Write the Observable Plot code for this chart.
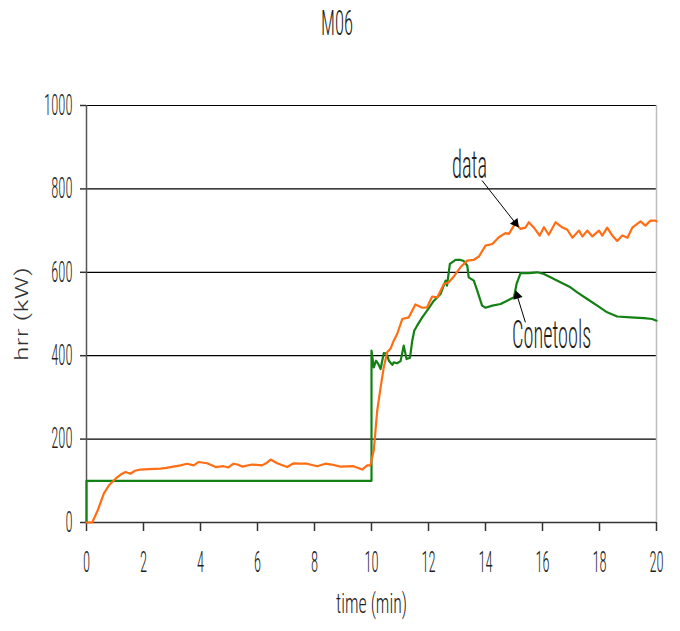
<!DOCTYPE html>
<html>
<head>
<meta charset="utf-8">
<script src="https://cdn.jsdelivr.net/npm/d3@7"></script>
<script src="https://cdn.jsdelivr.net/npm/@observablehq/plot@0.6"></script>
<style>
  html, body { margin: 0; padding: 0; background: #fff; }
  #title { height: 50px; width: 680px; position: relative; }
  #title span {
    position: absolute; left: 337px; top: 4px;
    font-family: "Roboto Condensed", "Roboto", "Liberation Sans Narrow", "DejaVu Sans Condensed", sans-serif;
    font-weight: 300;
    font-size: 35px; color: #222; line-height: 40px;
    transform-origin: 0 0; white-space: nowrap;
  }
</style>
</head>
<body>
<div id="title"><span id="titleSpan"></span></div>
<div id="chart"></div>
<script>
const titleText = "M06";
const xLabel = "time (min)";
const yLabel = "hrr (kW)";
const xTicks = [0, 2, 4, 6, 8, 10, 12, 14, 16, 18, 20];
const yTicks = [0, 200, 400, 600, 800, 1000];
const gridValues = [200, 400, 600, 800, 1000];

// "data" series (orange)
const dataTime = [0, 0.2, 0.4, 0.61, 0.8, 1.02, 1.2, 1.37, 1.54, 1.7, 1.89, 2.2, 2.6, 2.8, 3.05, 3.3, 3.53, 3.76, 3.93, 4.23, 4.53, 4.81, 4.98, 5.16, 5.3, 5.46, 5.81, 6.16, 6.3, 6.46, 6.69, 7.04, 7.27, 7.5, 7.74, 8.09, 8.38, 8.6, 8.91, 9.37, 9.67, 9.85, 9.96, 10.08, 10.2, 10.32, 10.43, 10.55, 10.67, 10.78, 10.9, 11.08, 11.31, 11.54, 11.78, 11.95, 12.13, 12.31, 12.54, 12.71, 12.89, 13.12, 13.36, 13.59, 13.77, 14.0, 14.24, 14.47, 14.7, 14.82, 15.05, 15.23, 15.4, 15.52, 15.7, 15.9, 16.05, 16.22, 16.46, 16.69, 16.87, 17.05, 17.28, 17.4, 17.57, 17.75, 17.98, 18.1, 18.27, 18.45, 18.62, 18.8, 18.98, 19.15, 19.44, 19.61, 19.79, 19.96, 20];
const dataHRR = [0, 0, 30, 70, 90, 105, 115, 121, 117, 124, 127, 128, 129, 131, 134, 137, 141, 137, 145, 142, 133, 135, 132, 141, 139, 134, 139, 137, 142, 151, 142, 133, 142, 141, 141, 135, 141, 139, 134, 135, 127, 137, 137, 173, 268, 324, 372, 408, 417, 436, 452, 488, 492, 523, 515, 516, 542, 540, 572, 576, 590, 612, 628, 630, 638, 664, 668, 684, 694, 692, 718, 704, 707, 720, 707, 688, 708, 690, 720, 708, 702, 683, 700, 686, 700, 686, 700, 688, 707, 688, 675, 688, 683, 707, 722, 712, 724, 724, 722];

// "Conetools" series (green)
const coneTime = [0, 0, 10, 10, 10.08, 10.16, 10.24, 10.32, 10.43, 10.53, 10.61, 10.73, 10.78, 10.9, 11.02, 11.13, 11.23, 11.35, 11.43, 11.5, 11.6, 11.78, 11.95, 12.19, 12.42, 12.6, 12.65, 12.75, 12.95, 13.1, 13.24, 13.36, 13.41, 13.59, 13.71, 13.88, 14.0, 14.24, 14.53, 14.76, 15.0, 15.09, 15.23, 15.52, 15.82, 16.05, 16.28, 16.63, 16.98, 17.22, 17.57, 17.92, 18.27, 18.62, 19.09, 19.56, 19.85, 20];
const coneHRR = [0, 100, 100, 412, 372, 388, 380, 368, 406, 405, 388, 378, 384, 382, 387, 424, 392, 395, 436, 460, 472, 492, 508, 532, 548, 580, 568, 620, 630, 630, 627, 616, 588, 580, 556, 520, 515, 520, 524, 532, 540, 572, 598, 598, 600, 596, 588, 576, 564, 552, 536, 520, 504, 494, 492, 490, 488, 484];

// annotations
const noteText = ["data", "Conetools"];
const noteX = [13.44, 16.32];
const noteY = [856, 448];
const arrowX1 = [13.88, 15.40];
const arrowY1 = [820, 480];
const arrowX2 = [15.05, 15.11];
const arrowY2 = [718, 544];
const arrowRotate = [142, -17];

const dataRows = dataTime.map((t, i) => ({t, v: dataHRR[i]}));
const coneRows = coneTime.map((t, i) => ({t, v: coneHRR[i]}));
const notes = noteText.map((s, i) => ({s, x: noteX[i], y: noteY[i]}));
const arrows = arrowX1.map((x1, i) => ({x1, y1: arrowY1[i], x2: arrowX2[i], y2: arrowY2[i], r: arrowRotate[i]}));

const font = '"Roboto Condensed", "Roboto", "Liberation Sans Narrow", "DejaVu Sans Condensed", sans-serif';

const chart = Plot.plot({
  width: 680,
  height: 581,
  marginTop: 55,
  marginBottom: 109,
  marginLeft: 86,
  marginRight: 24,
  style: {fontFamily: font, fontSize: "29px", fontWeight: 300, color: "#1e1e1e", background: "#fff", overflow: "visible"},
  x: {domain: [0, 20]},
  y: {domain: [0, 1000]},
  marks: [
    Plot.ruleY(gridValues, {stroke: "#000", strokeWidth: 1.2}),
    Plot.ruleX([20], {stroke: "#bdbdbd", strokeWidth: 1.5}),
    Plot.ruleX([0], {stroke: "#555", strokeWidth: 1.5}),
    Plot.ruleY([0], {stroke: "#333", strokeWidth: 1.5}),
    Plot.axisX({ticks: xTicks, tickFormat: d => String(d), tickSize: 9, tickPadding: 20, label: null, stroke: "#333", strokeWidth: 1.5}),
    Plot.axisY({ticks: yTicks, tickFormat: d => String(d), tickSize: 6, tickPadding: 8, label: null, stroke: "#333", strokeWidth: 1.5}),
    Plot.text([xLabel], {frameAnchor: "bottom", dy: 82, lineAnchor: "middle", textAnchor: "middle", text: d => d, fontSize: 28}),
    Plot.text([yLabel], {frameAnchor: "left", dx: -64, rotate: -90, textAnchor: "middle", lineAnchor: "middle", text: d => d, fontSize: 18, fill: "#333"}),
    Plot.line(coneRows, {x: "t", y: "v", stroke: "#138013", strokeWidth: 2.2}),
    Plot.line(dataRows, {x: "t", y: "v", stroke: "#ff6e14", strokeWidth: 2.2}),
    Plot.link(arrows, {x1: "x1", y1: "y1", x2: "x2", y2: "y2", stroke: "#000", strokeWidth: 1}),
    Plot.dot(arrows, {x: "x2", y: "y2", symbol: "triangle", r: 3.6, fill: "#000", stroke: "none", rotate: "r"}),
    Plot.text(notes, {x: "x", y: "y", text: "s", fontSize: 38, fill: "#1e1e1e"})
  ]
});

document.getElementById("chart").appendChild(chart);

// title, squeezed to the narrow look of the original
const span = document.getElementById("titleSpan");
span.textContent = titleText;
const tw = span.getBoundingClientRect().width;
const tk = 32 / tw;
span.style.transform = `scaleX(${tk}) translateX(-50%)`;

// condensed look: squeeze glyphs horizontally via textLength (text stays real text)
chart.querySelectorAll("text").forEach(t => {
  const content = t.textContent;
  const n = content.length;
  let target;
  if (content === yLabel) target = 94;
  else if (content === "data" || content === "Conetools") target = n * 8.8;
  else target = n * 7.1;
  t.setAttribute("textLength", target.toFixed(1));
  t.setAttribute("lengthAdjust", "spacingAndGlyphs");
});
</script>
</body>
</html>
